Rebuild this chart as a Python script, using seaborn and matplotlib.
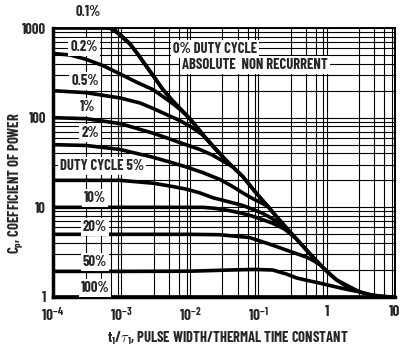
import numpy as np
import pandas as pd
import matplotlib
matplotlib.use("Agg")
import matplotlib.pyplot as plt
import seaborn as sns

# --- data: t1/tau (x) vs Cp (y), one pair of lists per duty cycle ---
duty_labels = ["0%", "0.1%", "0.2%", "0.5%", "1%", "2%", "5%", "10%", "20%", "50%", "100%"]

# upper envelope (0.1% hugs the 1000 line first, then all curves fall into it)
t_01 = [1e-4, 4.85e-4, 6.79e-4, 9.51e-4, 1.33e-3, 1.74e-3, 2.28e-3, 3.08e-3, 4.04e-3, 5.46e-3,
        7.14e-3, 1e-2, 1.31e-2, 1.71e-2, 2.40e-2, 3.36e-2, 4.54e-2, 5.94e-2, 7.52e-2, 9.51e-2,
        0.138, 0.206, 0.319, 0.511, 0.668, 0.875, 1.107, 1.40, 2.03, 3.03, 4.54, 7.03, 10]
cp_01 = [1000, 998, 995, 851, 670, 512, 381, 277, 206, 158,
         127, 97.5, 76.3, 59.4, 44.2, 33.6, 26.9, 22.1, 17.7, 14.2,
         10.3, 7.17, 4.89, 3.33, 2.64, 2.15, 1.80, 1.55, 1.29, 1.14, 1.05, 1.01, 1.0]

t_0 = [7.5e-4, 9.51e-4, 1.33e-3, 1.74e-3, 2.28e-3, 3.08e-3, 4.04e-3, 5.46e-3, 7.14e-3, 1e-2,
       1.71e-2, 3.36e-2, 5.94e-2, 9.51e-2, 0.206, 0.511, 0.875, 1.40, 3.03, 4.54, 7.03, 10]
cp_0 = [1000, 835, 662, 508, 381, 277, 206, 158, 127, 97.5,
        59.4, 33.6, 22.1, 14.2, 7.17, 3.33, 2.15, 1.55, 1.14, 1.05, 1.01, 1.0]

t_02 = [1e-4, 1.77e-4, 3.03e-4, 5.37e-4, 9.51e-4, 1.68e-3, 2.88e-3, 4.32e-3, 6.04e-3, 8.45e-3]
cp_02 = [520, 500, 448, 381, 308, 248, 206, 166, 138, 111]

t_05 = [1e-4, 3.03e-4, 9.51e-4, 1.86e-3, 2.88e-3, 4.61e-3, 7.14e-3, 1.07e-2, 1.55e-2, 2.32e-2, 3.36e-2]
cp_05 = [200, 190, 166, 146, 127, 108, 92.9, 78.0, 64.0, 45.5, 33.6]

t_1 = [1e-4, 3.03e-4, 9.51e-4, 2.88e-3, 5.1e-3, 8.75e-3, 1.40e-2, 2.17e-2, 3.03e-2, 4.25e-2]
cp_1 = [100, 97.5, 86, 67.3, 57.9, 50, 44.2, 38.1, 32.8, 28.3]

t_2 = [1e-4, 3.03e-4, 9.51e-4, 2.88e-3, 5.1e-3, 8.75e-3, 1.55e-2, 2.74e-2, 4.10e-2, 5.94e-2,
       8.32e-2, 0.116, 0.138]
cp_2 = [50, 49, 44.2, 36.2, 32.0, 28.3, 24.4, 20.5, 17.3, 14.5,
        12.5, 11.0, 10.3]

t_5 = [1e-4, 9.51e-4, 2.88e-3, 5.1e-3, 8.75e-3, 1.40e-2, 2.17e-2, 3.59e-2, 5.94e-2, 8.32e-2,
       0.116, 0.157, 0.206, 0.244]
cp_5 = [20, 20, 18.6, 17.3, 16.0, 14.5, 12.8, 11.6, 10.5, 9.5,
        8.58, 7.55, 6.64, 6.15]

t_10 = [1e-4, 1e-3, 1e-2, 1.55e-2, 2.32e-2, 3.59e-2, 5.4e-2, 7.52e-2, 0.112, 0.163, 0.244, 0.341]
cp_10 = [10, 10, 10, 10, 9.75, 9.26, 8.7, 8.15, 7.36, 6.64, 5.7, 4.6]

t_20 = [1e-4, 1e-3, 1e-2, 2.74e-2, 7.52e-2, 0.163, 0.288, 0.511, 0.668, 0.79]
cp_20 = [5, 5, 5, 4.95, 4.6, 3.78, 3.24, 2.78, 2.5, 2.3]

t_50 = [1e-4, 1e-3, 1e-2, 3.84e-2, 8.89e-2, 0.163, 0.261, 0.365, 0.565, 0.79, 1.40, 2.03, 3.03]
cp_50 = [1.93, 1.93, 1.94, 2.0, 2.03, 2.0, 1.80, 1.63, 1.51, 1.43, 1.29, 1.21, 1.14]

t_100 = [1e-4, 10]
cp_100 = [1.0, 1.0]

series_t = [t_0, t_01, t_02, t_05, t_1, t_2, t_5, t_10, t_20, t_50, t_100]
series_cp = [cp_0, cp_01, cp_02, cp_05, cp_1, cp_2, cp_5, cp_10, cp_20, cp_50, cp_100]

x_ticks = [1e-4, 1e-3, 1e-2, 1e-1, 1, 10]
x_ticklabels = ["$10^{-4}$", "$10^{-3}$", "$10^{-2}$", "$10^{-1}$", "1", "10"]
y_ticks = [1, 10, 100, 1000]
y_ticklabels = ["1", "10", "100", "1000"]

rows = []
for lab, ts, cs in zip(duty_labels, series_t, series_cp):
    for t, c in zip(ts, cs):
        rows.append((lab, t, c))
df = pd.DataFrame(rows, columns=["duty", "t", "cp"])

# --- style ---
sns.set_style("white")
FONT = ["Barlow Condensed", "DejaVu Sans"]
plt.rcParams["font.family"] = FONT
plt.rcParams["font.weight"] = "bold"
plt.rcParams["mathtext.fontset"] = "custom"
plt.rcParams["mathtext.rm"] = "Barlow Condensed:bold"
plt.rcParams["mathtext.bf"] = "Barlow Condensed:bold"
plt.rcParams["mathtext.it"] = "Barlow Condensed:bold"
plt.rcParams["mathtext.default"] = "rm"

W, H = 401, 348
fig = plt.figure(figsize=(W / 100, H / 100), dpi=100)
ax = fig.add_axes([53 / W, 1 - 297 / H, (395 - 53) / W, (297 - 28) / H])

ax.set_xscale("log")
ax.set_yscale("log")
ax.set_xlim(1e-4, 10)
ax.set_ylim(1, 1000)

# datasheet grid: decades plus 3,5,7,9 across, full 2..9 up
xminor = [m * 10.0 ** e for e in range(-4, 1) for m in (3, 5, 7, 9)]
for xv in x_ticks + xminor:
    ax.axvline(xv, color="black", lw=0.8, zorder=1)
yminor = [m * 10.0 ** e for e in range(0, 3) for m in range(2, 10)]
for yv in y_ticks + yminor:
    ax.axhline(yv, color="black", lw=0.8, zorder=1)

sns.lineplot(data=df, x="t", y="cp", hue="duty", hue_order=duty_labels,
             palette=["black"] * len(duty_labels), estimator=None, sort=False,
             legend=False, linewidth=2.6, ax=ax, zorder=3)

ax.set_xticks(x_ticks)
ax.set_xticklabels(x_ticklabels)
ax.set_yticks(y_ticks)
ax.set_yticklabels(y_ticklabels)
ax.minorticks_off()
ax.tick_params(axis="y", length=0, labelsize=10.5, pad=5)
ax.tick_params(axis="x", length=0, labelsize=11, pad=6)
for lbl in ax.get_xticklabels() + ax.get_yticklabels():
    lbl.set_fontweight("bold")
ax.set_xlabel("")
ax.set_ylabel("")

for side in ["left", "bottom"]:
    ax.spines[side].set_linewidth(2.5)
for side in ["top", "right"]:
    ax.spines[side].set_linewidth(1.4)
for sp in ax.spines.values():
    sp.set_color("black")
    sp.set_zorder(4)

fig.text(228 / W, 1 - 338 / H, "t$_1$/$\\tau_1$, PULSE WIDTH/THERMAL TIME CONSTANT",
         ha="center", va="center", fontsize=10.5, fontweight="bold")
fig.text(16 / W, 1 - 183 / H, "C$_p$, COEFFICIENT OF POWER", rotation=90,
         ha="center", va="center", fontsize=10.5, fontweight="bold")

box = dict(facecolor="white", edgecolor="none", pad=1.5)
labels = [
    ("0.1%", 88, 12, False),
    ("0.2%", 84, 47, True),
    ("0.5%", 85, 81, True),
    ("1%", 88, 107, True),
    ("2%", 90, 133, True),
    ("DUTY CYCLE 5%", 102, 166, True),
    ("10%", 95, 198, True),
    ("20%", 95, 227, True),
    ("50%", 95, 262, True),
    ("100%", 95, 288, True),
    ("0% DUTY CYCLE", 215, 49, True),
    ("ABSOLUTE  NON RECURRENT", 255, 65, True),
]
for txt, px, py, boxed in labels:
    fig.text(px / W, 1 - py / H, txt, ha="center", va="center", fontsize=10.5,
             fontweight="bold", zorder=5, bbox=box if boxed else None)

fig.savefig("out.png", dpi=100)
